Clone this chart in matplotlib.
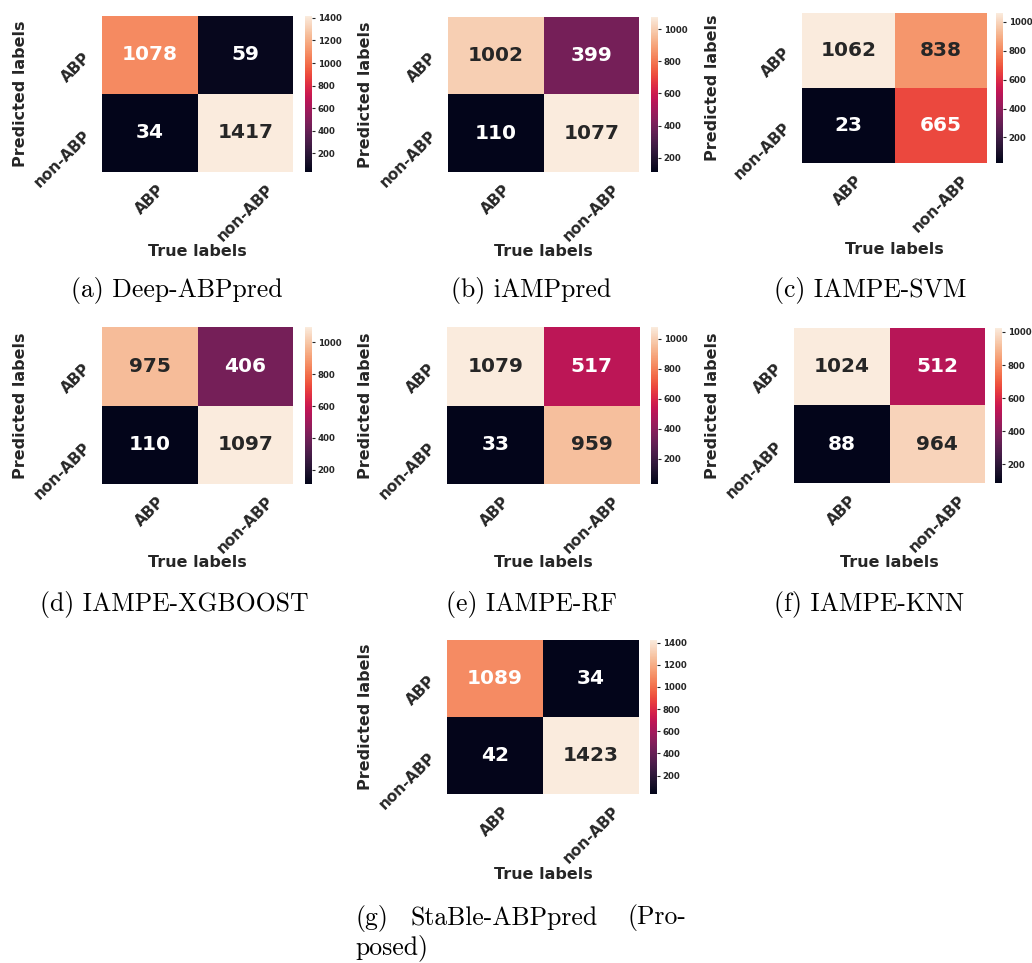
import matplotlib
matplotlib.use("Agg")
import matplotlib.pyplot as plt
import numpy as np
import seaborn as sns

sns.set_theme(style="white")
plt.rcParams["font.family"] = ["DejaVu Sans"]
plt.rcParams["font.weight"] = "bold"

# Confusion matrices: rows = predicted (ABP, non-ABP), cols = true (ABP, non-ABP)
class_names = ["ABP", "non-ABP"]

deep_abppred = [[1078, 59], [34, 1417]]
iampred = [[1002, 399], [110, 1077]]
iampe_svm = [[1062, 838], [23, 665]]
iampe_xgboost = [[975, 406], [110, 1097]]
iampe_rf = [[1079, 517], [33, 959]]
iampe_knn = [[1024, 512], [88, 964]]
stable_abppred = [[1089, 34], [42, 1423]]

captions = [
    "(a) Deep-ABPpred",
    "(b) iAMPpred",
    "(c) IAMPE-SVM",
    "(d) IAMPE-XGBOOST",
    "(e) IAMPE-RF",
    "(f) IAMPE-KNN",
]

W, H = 1032, 963
fig = plt.figure(figsize=(W / 100, H / 100), dpi=100)


def rect(x0, y0, x1, y1):
    return [x0 / W, (H - y1) / H, (x1 - x0) / W, (y1 - y0) / H]


# panel geometry in pixels: heatmap box, colorbar x-range, ylabel x, xlabel y
panels = [
    (deep_abppred, (102, 16, 293, 172), (305, 312), 20, 252),
    (iampred, (448, 17, 639, 172), (651, 658), 365, 252),
    (iampe_svm, (802, 13, 987, 163), (996, 1003), 712, 250),
    (iampe_xgboost, (102, 327, 293, 484), (305, 312), 20, 563),
    (iampe_rf, (447, 327, 640, 484), (651, 658), 365, 563),
    (iampe_knn, (794, 328, 985, 483), (995, 1002), 712, 563),
    (stable_abppred, (447, 640, 639, 794), (650, 657), 365, 875),
]

caption_pos = [(177, 290), (531, 290), (870, 290), (174, 605), (532, 605), (869, 605)]

text_col = "#262626"

for mat, (x0, y0, x1, y1), (cx0, cx1), ylx, xly in panels:
    ax = fig.add_axes(rect(x0, y0, x1, y1))
    cax = fig.add_axes(rect(cx0, y0, cx1, y1))
    sns.heatmap(np.array(mat), annot=True, fmt="d", ax=ax, cbar_ax=cax,
                xticklabels=class_names, yticklabels=class_names,
                annot_kws={"size": 14.5, "weight": "bold"})
    ax.tick_params(axis="both", length=0)
    ax.tick_params(axis="x", pad=7)
    ax.tick_params(axis="y", pad=10)
    for lab in ax.get_xticklabels():
        lab.set_rotation(45)
        lab.set_ha("center")
        lab.set_fontsize(11)
        lab.set_fontweight("bold")
        lab.set_color(text_col)
    for lab in ax.get_yticklabels():
        lab.set_rotation(45)
        lab.set_ha("right")
        lab.set_va("center")
        lab.set_rotation_mode("anchor")
        lab.set_fontsize(11)
        lab.set_fontweight("bold")
        lab.set_color(text_col)
    ax.set_xlabel("True labels", fontsize=11.5, fontweight="bold", color=text_col)
    ax.set_ylabel("Predicted labels", fontsize=11.5, fontweight="bold", color=text_col)
    hw, hh = x1 - x0, y1 - y0
    ax.xaxis.set_label_coords(0.5, -(xly - 8 - y1) / hh)
    ax.yaxis.set_label_coords(-(x0 - (ylx + 8)) / hw, 0.5)
    cax.tick_params(labelsize=6.2, length=2.5, width=0.8, color=text_col,
                    labelcolor=text_col, pad=1.5)
    for lab in cax.get_yticklabels():
        lab.set_fontweight("bold")

cap_font = dict(family=["cmr10", "DejaVu Serif"], fontsize=18.5, fontweight="normal",
                color="black")
for txt, (cx, cy) in zip(captions, caption_pos):
    fig.text(cx / W, 1 - cy / H, txt, ha="center", va="center", **cap_font)

# two-line justified caption for the proposed model
fig.text(355 / W, 1 - 918 / H, "(g)", ha="left", va="center", **cap_font)
fig.text(410 / W, 1 - 918 / H, "StaBle-ABPpred", ha="left", va="center", **cap_font)
fig.text(686 / W, 1 - 918 / H, "(Pro-", ha="right", va="center", **cap_font)
fig.text(355 / W, 1 - 948 / H, "posed)", ha="left", va="center", **cap_font)

fig.savefig("out.png", dpi=100, facecolor="white")
